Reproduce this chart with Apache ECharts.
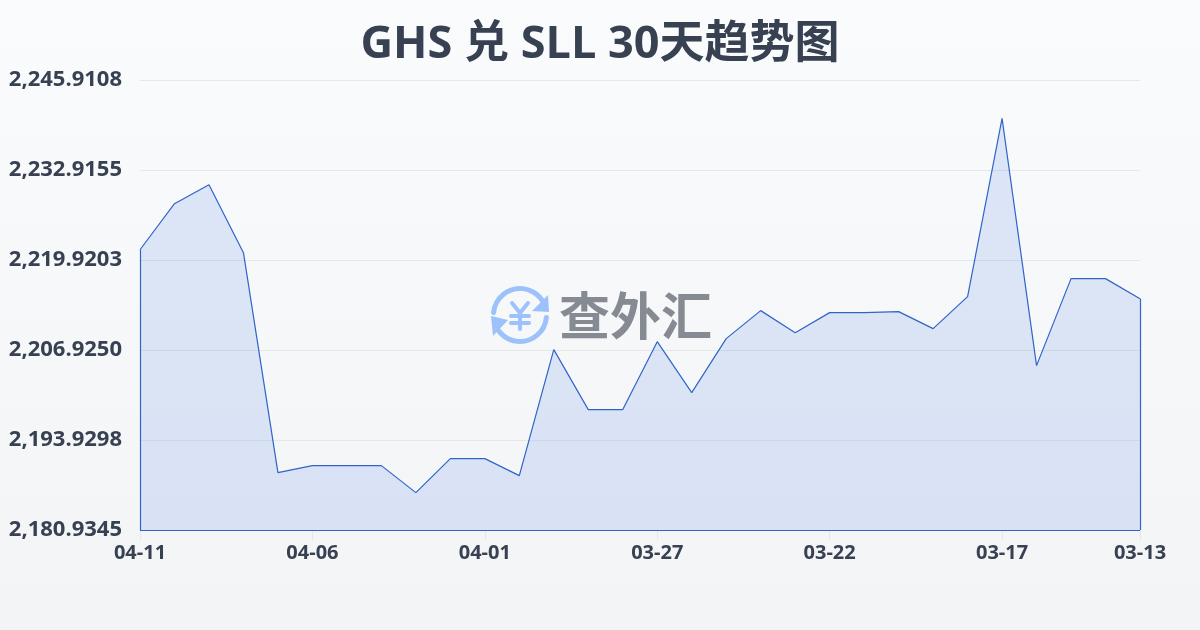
<!DOCTYPE html>
<html><head><meta charset="utf-8">
<style>html,body{margin:0;padding:0;background:#f6f8fa}#c{width:1200px;height:630px}</style>
<script src="https://cdn.jsdelivr.net/npm/echarts@6/dist/echarts.min.js"></script>
</head><body><div id="c"></div>
<script>
const titleText = 'GHS 兑 SLL 30天趋势图';
const dates = ['04-11','04-10','04-09','04-08','04-07','04-06','04-05','04-04','04-03','04-02','04-01','03-31','03-30','03-29','03-28','03-27','03-26','03-25','03-24','03-23','03-22','03-21','03-20','03-19','03-18','03-17','03-16','03-15','03-14','03-13'];
const rates = [2221.40,2228.05,2230.80,2220.98,2189.22,2190.23,2190.23,2190.23,2186.33,2191.24,2191.24,2188.79,2206.98,2198.32,2198.32,2208.13,2200.77,2208.57,2212.61,2209.43,2212.32,2212.32,2212.47,2210.01,2214.63,2240.38,2204.67,2217.23,2217.23,2214.34];
const yTicks = [2180.9345,2193.9298,2206.9250,2219.9203,2232.9155,2245.9108];
const lastIdx = dates.length - 1;
const labelFont = '"Open Sans","Noto Sans CJK SC",sans-serif';
const lineColor = '#3064c8';
const logoBlue = '#9dc1fb';
const fmt = v => v.toLocaleString('en-US',{minimumFractionDigits:4,maximumFractionDigits:4});
const yen = (pts) => ({type:'polyline',shape:{points:pts},style:{fill:'none',stroke:logoBlue,lineWidth:4,lineCap:'round',lineJoin:'round'}});
const chart = echarts.init(document.getElementById('c'),null,{renderer:'canvas'});
chart.setOption({
  animation:false,
  backgroundColor:{type:'linear',x:0,y:0,x2:0,y2:1,colorStops:[{offset:0,color:'#f9fbfd'},{offset:1,color:'#f3f4f6'}]},
  title:{text:titleText,left:'center',top:18,textStyle:{fontFamily:labelFont,fontSize:45,fontWeight:'bold',color:'#374151'}},
  grid:{left:140,right:60,top:80,bottom:100},
  xAxis:{type:'category',boundaryGap:false,data:dates,
    axisLine:{show:false},
    axisTick:{show:true,length:10,alignWithLabel:true,interval:i=>i%5===0||i===lastIdx,lineStyle:{color:'#e5e7eb'}},
    splitLine:{show:false},
    axisLabel:{interval:i=>i%5===0||i===lastIdx?true:false,margin:13,hideOverlap:false,fontFamily:labelFont,fontSize:20,fontWeight:'bold',color:'#374151'}},
  yAxis:{type:'value',min:yTicks[0],max:yTicks[5],
    axisLine:{show:false},
    axisTick:{show:false,customValues:yTicks},
    splitLine:{show:true,lineStyle:{color:'#e5e7eb',width:1}},
    axisLabel:{customValues:yTicks,margin:18,formatter:fmt,fontFamily:labelFont,fontSize:22,fontWeight:'bold',color:'#374151',padding:[0,0,4,0]}},
  graphic:[
    {type:'group',silent:true,z:5,children:[
      {type:'arc',shape:{cx:520,cy:315,r:26.5,startAngle:-Math.PI*0.97,endAngle:-Math.PI*0.1,clockwise:true},style:{fill:'none',stroke:logoBlue,lineWidth:5,lineCap:'round'}},
      {type:'arc',shape:{cx:520,cy:315,r:26.5,startAngle:Math.PI*0.03,endAngle:Math.PI*0.9,clockwise:true},style:{fill:'none',stroke:logoBlue,lineWidth:5,lineCap:'round'}},
      {type:'polygon',shape:{points:[[549,312],[532,311],[548,295]]},style:{fill:logoBlue}},
      {type:'polygon',shape:{points:[[491,316],[508,320],[493,336]]},style:{fill:logoBlue}},
      yen([[512,303],[520,313],[528,303]]),
      yen([[511,316],[529,316]]),
      yen([[511,323],[529,323]]),
      yen([[520,313],[520,329]]),
      {type:'text',style:{x:559,y:316,text:'查外汇',align:'left',verticalAlign:'middle',font:'bold 51px "Noto Sans CJK SC",sans-serif',fill:'#868a92'}}
    ]}
  ],
  series:[{type:'line',data:rates,symbol:'none',smooth:false,z:3,
    lineStyle:{color:lineColor,width:1.2},
    areaStyle:{color:'rgba(59,110,224,0.2)',origin:'start'},
    markLine:{silent:true,symbol:'none',label:{show:false},lineStyle:{color:lineColor,width:1.2,type:'solid'},animation:false,
      data:[
        [{xAxis:0,yAxis:yTicks[0]},{xAxis:0,yAxis:rates[0]}],
        [{xAxis:lastIdx,yAxis:yTicks[0]},{xAxis:lastIdx,yAxis:rates[lastIdx]}],
        [{xAxis:0,yAxis:yTicks[0]},{xAxis:lastIdx,yAxis:yTicks[0]}]
      ]}
  }]
});
</script></body></html>
